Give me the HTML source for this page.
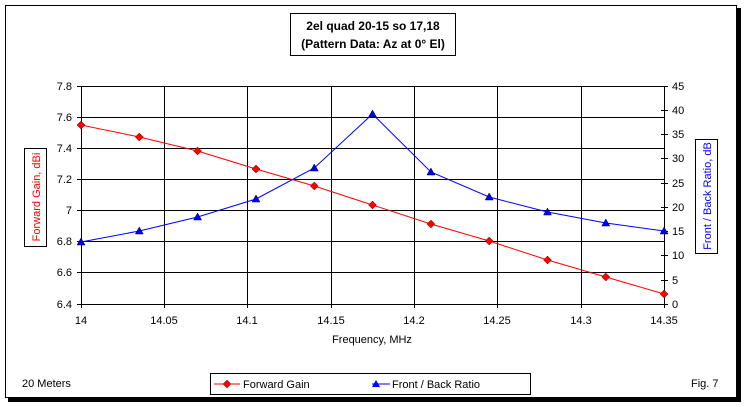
<!DOCTYPE html>
<html><head><style>body{margin:0;background:#fff}svg{display:block}</style></head><body>
<svg width="744" height="407" xmlns="http://www.w3.org/2000/svg" font-family="Liberation Sans, Arial, sans-serif" font-size="11">
<rect x="0" y="0" width="744" height="407" fill="#fff"/>
<rect x="5.5" y="5.5" width="731" height="392" fill="none" stroke="#000" stroke-width="1"/>
<rect x="737" y="8" width="4" height="394" fill="#000"/>
<rect x="8" y="398" width="733" height="4" fill="#000"/>
<rect x="290.5" y="13.5" width="165" height="42" fill="#fff" stroke="#000"/>
<text x="373" y="30" text-anchor="middle" font-weight="bold" font-size="12">2el quad 20-15 so 17,18</text>
<text x="373" y="48" text-anchor="middle" font-weight="bold" font-size="12">(Pattern Data: Az at 0° El)</text>
<g stroke="#000" stroke-width="1">
<path d="M81 86.5H664M81 117.5H664M81 148.5H664M81 179.5H664M81 210.5H664M81 241.5H664M81 272.5H664M81 304.5H664"/>
<path d="M81.5 86V304M164.5 86V304M247.5 86V304M331.5 86V304M414.5 86V304M497.5 86V304M581.5 86V304M664.5 86V308"/>
<path d="M77 86.5H81M77 117.5H81M77 148.5H81M77 179.5H81M77 210.5H81M77 241.5H81M77 272.5H81M77 304.5H81"/>
<path d="M661 86.5H668M661 110.5H668M661 134.5H668M661 158.5H668M661 183.5H668M661 207.5H668M661 231.5H668M661 255.5H668M661 280.5H668M661 304.5H668"/>
<path d="M81.5 304V308M164.5 304V308M247.5 304V308M331.5 304V308M414.5 304V308M497.5 304V308M581.5 304V308"/>
</g>
<g text-anchor="end"><text x="72" y="90">7.8</text><text x="72" y="121">7.6</text><text x="72" y="152">7.4</text><text x="72" y="183">7.2</text><text x="72" y="214">7</text><text x="72" y="245">6.8</text><text x="72" y="276">6.6</text><text x="72" y="308">6.4</text></g>
<g><text x="672" y="90">45</text><text x="672" y="114">40</text><text x="672" y="138">35</text><text x="672" y="162">30</text><text x="672" y="187">25</text><text x="672" y="211">20</text><text x="672" y="235">15</text><text x="672" y="259">10</text><text x="672" y="284">5</text><text x="672" y="308">0</text></g>
<g text-anchor="middle"><text x="81" y="324">14</text><text x="164" y="324">14.05</text><text x="247" y="324">14.1</text><text x="331" y="324">14.15</text><text x="414" y="324">14.2</text><text x="497" y="324">14.25</text><text x="581" y="324">14.3</text><text x="664" y="324">14.35</text></g>
<text x="372" y="343" text-anchor="middle">Frequency, MHz</text>
<rect x="24.5" y="148.5" width="22" height="98" fill="#fff" stroke="#000"/>
<text transform="translate(40,197) rotate(-90)" text-anchor="middle" fill="#f00">Forward Gain,  dBi</text>
<rect x="695.5" y="139.5" width="22" height="114" fill="#fff" stroke="#000"/>
<text transform="translate(711,196) rotate(-90)" text-anchor="middle" fill="#00f">Front / Back Ratio,  dB</text>
<polyline fill="none" stroke="#f00" points="81,125 139.3,137 197.6,151 256,169 314.3,186 372.5,205 430.9,224 489.2,241 547.5,260 605.8,277 664.1,294"/>
<g fill="#f00" stroke="#600" stroke-width="0.5">
<path d="M81 121l4 4-4 4-4-4z M139.3 133l4 4-4 4-4-4z M197.6 147l4 4-4 4-4-4z M256 165l4 4-4 4-4-4z M314.3 182l4 4-4 4-4-4z M372.5 201l4 4-4 4-4-4z M430.9 220l4 4-4 4-4-4z M489.2 237l4 4-4 4-4-4z M547.5 256l4 4-4 4-4-4z M605.8 273l4 4-4 4-4-4z M664.1 290l4 4-4 4-4-4z"/>
</g>
<polyline fill="none" stroke="#00f" points="81,242 139.3,231 197.6,217 256,199 314.3,168 372.5,114 430.9,172 489.2,197 547.5,212 605.8,223 664.1,231"/>
<g fill="#00f" stroke="#002" stroke-width="0.5">
<path d="M81 238l4 7h-8z M139.3 227l4 7h-8z M197.6 213l4 7h-8z M256 195l4 7h-8z M314.3 164l4 7h-8z M372.5 110l4 7h-8z M430.9 168l4 7h-8z M489.2 193l4 7h-8z M547.5 208l4 7h-8z M605.8 219l4 7h-8z M664.1 227l4 7h-8z"/>
</g>
<text x="22" y="387">20 Meters</text>
<text x="691" y="387">Fig. 7</text>
<rect x="210.5" y="373.5" width="320" height="21" fill="#fff" stroke="#000"/>
<line x1="214" y1="384" x2="240" y2="384" stroke="#f00"/>
<path d="M227 380l4 4-4 4-4-4z" fill="#f00" stroke="#600" stroke-width="0.5"/>
<text x="243" y="388">Forward Gain</text>
<line x1="372" y1="384" x2="390" y2="384" stroke="#00f"/>
<path d="M376 380l4 7h-8z" fill="#00f"/>
<text x="392" y="388">Front / Back Ratio</text>
</svg>
</body></html>
